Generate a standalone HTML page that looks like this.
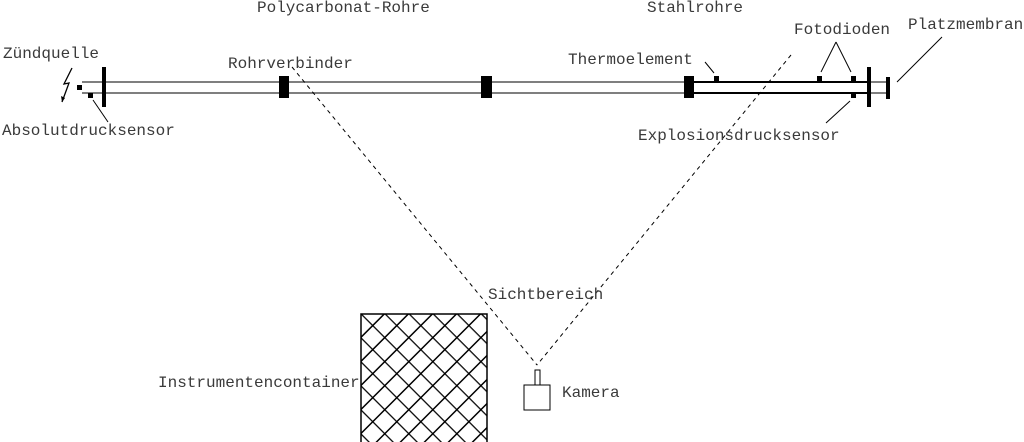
<!DOCTYPE html>
<html><head><meta charset="utf-8"><style>
html,body{margin:0;padding:0;background:#fff;}
svg{display:block;}
text{font-family:"Liberation Mono",monospace;font-size:16px;fill:#3a3a3a;}
</style></head><body>
<svg width="1024" height="442" viewBox="0 0 1024 442" xmlns="http://www.w3.org/2000/svg">
<defs>
<pattern id="hatch" patternUnits="userSpaceOnUse" width="17" height="17" patternTransform="rotate(45)">
<rect width="17" height="17" fill="#fff"/>
<line x1="0" y1="0" x2="0" y2="17" stroke="#000" stroke-width="3"/>
<line x1="0" y1="0" x2="17" y2="0" stroke="#000" stroke-width="2.5"/>
</pattern>
</defs>
<line x1="82" y1="82" x2="890" y2="82" stroke="#555" stroke-width="1.5"/>
<line x1="82" y1="93" x2="890" y2="93" stroke="#555" stroke-width="1.5"/>
<line x1="694" y1="82" x2="869" y2="82" stroke="#000" stroke-width="2"/>
<line x1="694" y1="93" x2="869" y2="93" stroke="#000" stroke-width="2"/>
<rect x="102" y="67" width="4" height="40" fill="#000"/>
<rect x="867" y="67" width="4" height="40" fill="#000"/>
<rect x="886" y="77" width="4" height="22" fill="#000"/>
<rect x="279" y="76" width="10" height="22" fill="#000"/>
<rect x="481" y="76" width="11" height="22" fill="#000"/>
<rect x="684" y="76" width="10" height="22" fill="#000"/>
<rect x="77" y="85" width="5" height="5" fill="#000"/>
<rect x="88" y="93" width="5" height="5" fill="#000"/>
<rect x="714" y="76" width="5" height="5" fill="#000"/>
<rect x="817" y="76" width="5" height="5" fill="#000"/>
<rect x="851" y="76" width="5" height="5" fill="#000"/>
<rect x="851" y="93" width="5" height="5" fill="#000"/>
<polyline points="72,68 64,84 69,83 62,102" fill="none" stroke="#000" stroke-width="1.3"/>
<polygon points="62,102 61,96 65,98" fill="#000"/>
<line x1="93" y1="100" x2="108" y2="122" stroke="#000"/>
<line x1="705" y1="62" x2="714" y2="73" stroke="#000"/>
<line x1="836" y1="42" x2="821" y2="72" stroke="#000"/>
<line x1="836" y1="42" x2="851" y2="72" stroke="#000"/>
<line x1="826" y1="123" x2="850" y2="101" stroke="#000"/>
<line x1="897" y1="82" x2="942" y2="37" stroke="#000"/>
<line x1="292" y1="67" x2="537" y2="365" stroke="#000" stroke-dasharray="4,4"/>
<line x1="791" y1="55" x2="537" y2="365" stroke="#000" stroke-dasharray="4,4"/>
<rect x="361" y="314" width="126" height="132" fill="url(#hatch)" stroke="#000" stroke-width="1.5"/>
<rect x="535" y="370" width="5" height="15" fill="#fff" stroke="#000"/>
<rect x="524" y="385" width="26" height="25" fill="#fff" stroke="#000"/>
<text x="257" y="12">Polycarbonat-Rohre</text>
<text x="647" y="12">Stahlrohre</text>
<text x="794" y="34">Fotodioden</text>
<text x="908" y="29">Platzmembran</text>
<text x="3" y="58">Zündquelle</text>
<text x="228" y="68">Rohrverbinder</text>
<text x="568" y="64">Thermoelement</text>
<text x="2" y="135">Absolutdrucksensor</text>
<text x="638" y="140">Explosionsdrucksensor</text>
<text x="488" y="299">Sichtbereich</text>
<text x="158" y="387">Instrumentencontainer</text>
<text x="562" y="397">Kamera</text>
</svg>
</body></html>
